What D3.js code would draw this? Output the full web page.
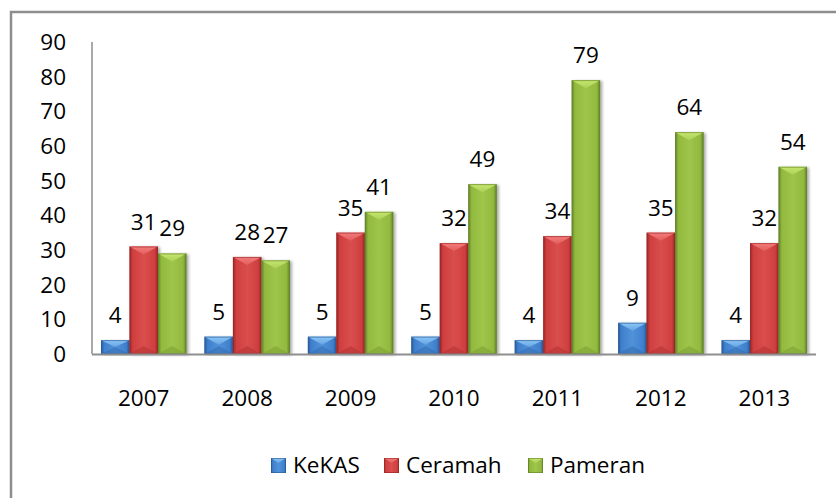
<!DOCTYPE html>
<html>
<head>
<meta charset="utf-8">
<script src="https://cdn.jsdelivr.net/npm/d3@7"></script>
<style>
  html, body { margin: 0; padding: 0; background: #fff; }
  svg { display: block; font-family: "Open Sans", "Noto Sans", sans-serif; }
</style>
</head>
<body>
<svg id="chart" width="836" height="498"></svg>
<script>
// Yearly counts per activity
const years = ["2007", "2008", "2009", "2010", "2011", "2012", "2013"];
const kekas = [4, 5, 5, 5, 4, 9, 4];
const ceramah = [31, 28, 35, 32, 34, 35, 32];
const pameran = [29, 27, 41, 49, 79, 64, 54];
const seriesNames = ["KeKAS", "Ceramah", "Pameran"];
const yTicks = [0, 10, 20, 30, 40, 50, 60, 70, 80, 90];

const seriesValues = [kekas, ceramah, pameran];
const palette = [
  { base: "#3f80ce", light: "#8cc6f6", dark: "#2a5a98", bottom: "#336eb4" },
  { base: "#d03f3f", light: "#f47c7c", dark: "#9a2626", bottom: "#b83434" },
  { base: "#92ba3e", light: "#c6e670", dark: "#62822a", bottom: "#7ea234" }
];
const fontSize = 22.5;

const svg = d3.select("#chart");
const defs = svg.append("defs");

// Horizontal shading gives each column a rounded, bevelled look
palette.forEach((c, i) => {
  const g = defs.append("linearGradient").attr("id", "body" + i)
    .attr("x1", "0").attr("x2", "1").attr("y1", "0").attr("y2", "0");
  g.append("stop").attr("offset", "0").attr("stop-color", c.dark);
  g.append("stop").attr("offset", "0.12").attr("stop-color", c.base);
  g.append("stop").attr("offset", "0.5").attr("stop-color", d3.interpolateRgb(c.base, c.light)(0.25));
  g.append("stop").attr("offset", "0.88").attr("stop-color", c.base);
  g.append("stop").attr("offset", "1").attr("stop-color", c.dark);
  const t = defs.append("linearGradient").attr("id", "top" + i)
    .attr("x1", "0").attr("x2", "0").attr("y1", "0").attr("y2", "1");
  t.append("stop").attr("offset", "0").attr("stop-color", c.light);
  t.append("stop").attr("offset", "1").attr("stop-color", d3.interpolateRgb(c.light, c.base)(0.5));
});

const shadow = defs.append("filter").attr("id", "shadow")
  .attr("x", "-20%").attr("y", "-10%").attr("width", "150%").attr("height", "120%");
shadow.append("feGaussianBlur").attr("in", "SourceAlpha").attr("stdDeviation", 1.5);
shadow.append("feOffset").attr("dx", 2).attr("dy", 1).attr("result", "off");
shadow.append("feComponentTransfer").append("feFuncA").attr("type", "linear").attr("slope", 0.35);
const merge = shadow.append("feMerge");
merge.append("feMergeNode");
merge.append("feMergeNode").attr("in", "SourceGraphic");

// Chart frame (only top and left edges fall inside the view)
svg.append("rect")
  .attr("x", 11).attr("y", 12).attr("width", 900).attr("height", 600)
  .attr("fill", "none").attr("stroke", "#8e8e8e").attr("stroke-width", 2.5);

const plotLeft = 92, plotRight = 816, plotTop = 42, plotBottom = 354;

const x0 = d3.scaleBand().domain(years).range([plotLeft, plotRight]).padding(0);
const bw = x0.bandwidth();
const x1 = d3.scaleBand().domain(d3.range(seriesNames.length))
  .range([bw * 0.087, bw * 0.913]).padding(0);
const y = d3.scaleLinear().domain([0, 90]).range([plotBottom, plotTop]);

// Value axis
svg.append("line")
  .attr("x1", plotLeft).attr("x2", plotLeft)
  .attr("y1", y(90)).attr("y2", y(0))
  .attr("stroke", "#8e8e8e").attr("stroke-width", 1.5);

svg.append("g").selectAll("text").data(yTicks).join("text")
  .attr("x", 66).attr("y", d => y(d) + 8)
  .attr("text-anchor", "end")
  .attr("font-size", fontSize).attr("fill", "#000")
  .text(d => d);

// Columns
const bars = [];
years.forEach((yr, j) => {
  seriesValues.forEach((vals, i) => {
    bars.push({ year: yr, s: i, v: vals[j] });
  });
});

const barG = svg.append("g");
bars.forEach(d => {
  const bx = x0(d.year) + x1(d.s);
  const w = x1.bandwidth();
  const top = y(d.v), bot = y(0);
  const h = bot - top;
  const bev = Math.min(8, h / 2);
  const cx = bx + w / 2;
  const g = barG.append("g").attr("filter", "url(#shadow)");
  g.append("rect").attr("x", bx).attr("y", top).attr("width", w).attr("height", h)
    .attr("fill", `url(#body${d.s})`);
  // top facet
  g.append("path")
    .attr("d", `M${bx},${top}L${bx + w},${top}L${cx},${top + bev}Z`)
    .attr("fill", `url(#top${d.s})`);
  // bottom facet
  g.append("path")
    .attr("d", `M${bx},${bot}L${bx + w},${bot}L${cx},${bot - bev}Z`)
    .attr("fill", palette[d.s].bottom).attr("opacity", 0.6);
  g.append("rect").attr("x", bx + 0.5).attr("y", top + 0.5).attr("width", w - 1).attr("height", h - 1)
    .attr("fill", "none").attr("stroke", palette[d.s].dark).attr("stroke-width", 1).attr("opacity", 0.6);
});

// Category axis baseline
svg.append("line")
  .attr("x1", plotLeft).attr("x2", plotRight)
  .attr("y1", plotBottom + 0.5).attr("y2", plotBottom + 0.5)
  .attr("stroke", "#8e8e8e").attr("stroke-width", 2);

// Value labels
svg.append("g").selectAll("text").data(bars).join("text")
  .attr("x", d => x0(d.year) + x1(d.s) + x1.bandwidth() / 2)
  .attr("y", d => y(d.v) - 17)
  .attr("text-anchor", "middle")
  .attr("font-size", fontSize).attr("fill", "#000")
  .text(d => d.v);

// Category labels
svg.append("g").selectAll("text").data(years).join("text")
  .attr("x", d => x0(d) + bw / 2)
  .attr("y", 406)
  .attr("text-anchor", "middle")
  .attr("font-size", fontSize).attr("fill", "#000")
  .text(d => d);

// Legend: swatch positions along the bottom row
const legendX = [271, 384, 528];
const legend = svg.append("g");
seriesNames.forEach((name, i) => {
  const c = palette[i];
  const lx = legendX[i];
  legend.append("rect").attr("x", lx).attr("y", 458).attr("width", 15).attr("height", 15)
    .attr("fill", `url(#body${i})`);
  legend.append("path")
    .attr("d", `M${lx},458L${lx + 15},458L${lx + 7.5},463Z`)
    .attr("fill", `url(#top${i})`);
  legend.append("rect").attr("x", lx + 0.5).attr("y", 458.5).attr("width", 14).attr("height", 14)
    .attr("fill", "none").attr("stroke", c.dark).attr("opacity", 0.6);
  legend.append("text").attr("x", lx + 22).attr("y", 473)
    .attr("font-size", fontSize).attr("fill", "#000").text(name);
});
</script>
</body>
</html>
